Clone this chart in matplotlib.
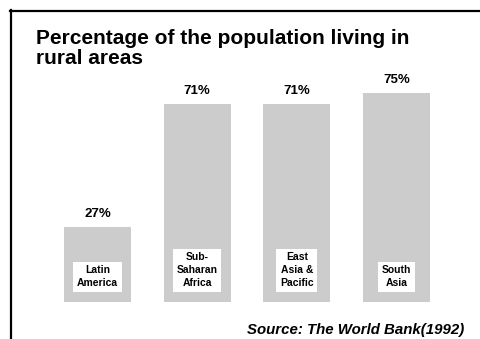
import matplotlib.pyplot as plt
from matplotlib.lines import Line2D

plt.rcParams['font.family'] = ['Liberation Sans', 'DejaVu Sans']

regions = ['Latin\nAmerica', 'Sub-\nSaharan\nAfrica', 'East\nAsia &\nPacific', 'South\nAsia']
rural_pct = [27, 71, 71, 75]
value_labels = ['27%', '71%', '71%', '75%']

fig = plt.figure(figsize=(4.81, 3.39), dpi=100)
ax = fig.add_axes([0, 0, 1, 1])
ax.axis('off')

x = list(range(len(regions)))
ax.bar(x, rural_pct, width=0.67, color='#cccccc')
ax.set_xlim(-0.978, 3.848)
ax.set_ylim(-13.26, 108.2)

# value labels above the bars
for xi, v, lab in zip(x, rural_pct, value_labels):
    ax.annotate(lab, (xi, v), xytext=(0, 5), textcoords='offset points',
                ha='center', va='bottom', fontsize=9.5, fontweight='bold')

# category names in white boxes near the bottom of each bar
for xi, name in zip(x, regions):
    ax.text(xi, 5, name, ha='center', va='bottom', fontsize=7.5,
            fontweight='bold', linespacing=1.35,
            bbox=dict(boxstyle='square,pad=0.35', fc='white', ec='none'))

# frame lines (top and left)
W, H = 481, 339
fig.add_artist(Line2D([10 / W, 1], [1 - 11 / H, 1 - 11 / H], color='black', lw=1.6,
                      transform=fig.transFigure))
fig.add_artist(Line2D([11 / W, 11 / W], [0, 1 - 10 / H], color='black', lw=1.6,
                      transform=fig.transFigure))

fig.text(36 / W, 1 - 29 / H, 'Percentage of the population living in\nrural areas',
         ha='left', va='top', fontsize=15, fontweight='bold', linespacing=1.1)

fig.text(464 / W, 1 - 330 / H, 'Source: The World Bank(1992)', ha='right',
         va='center', fontsize=10.8, fontweight='bold', fontstyle='italic')

fig.savefig('out.png', dpi=100)
